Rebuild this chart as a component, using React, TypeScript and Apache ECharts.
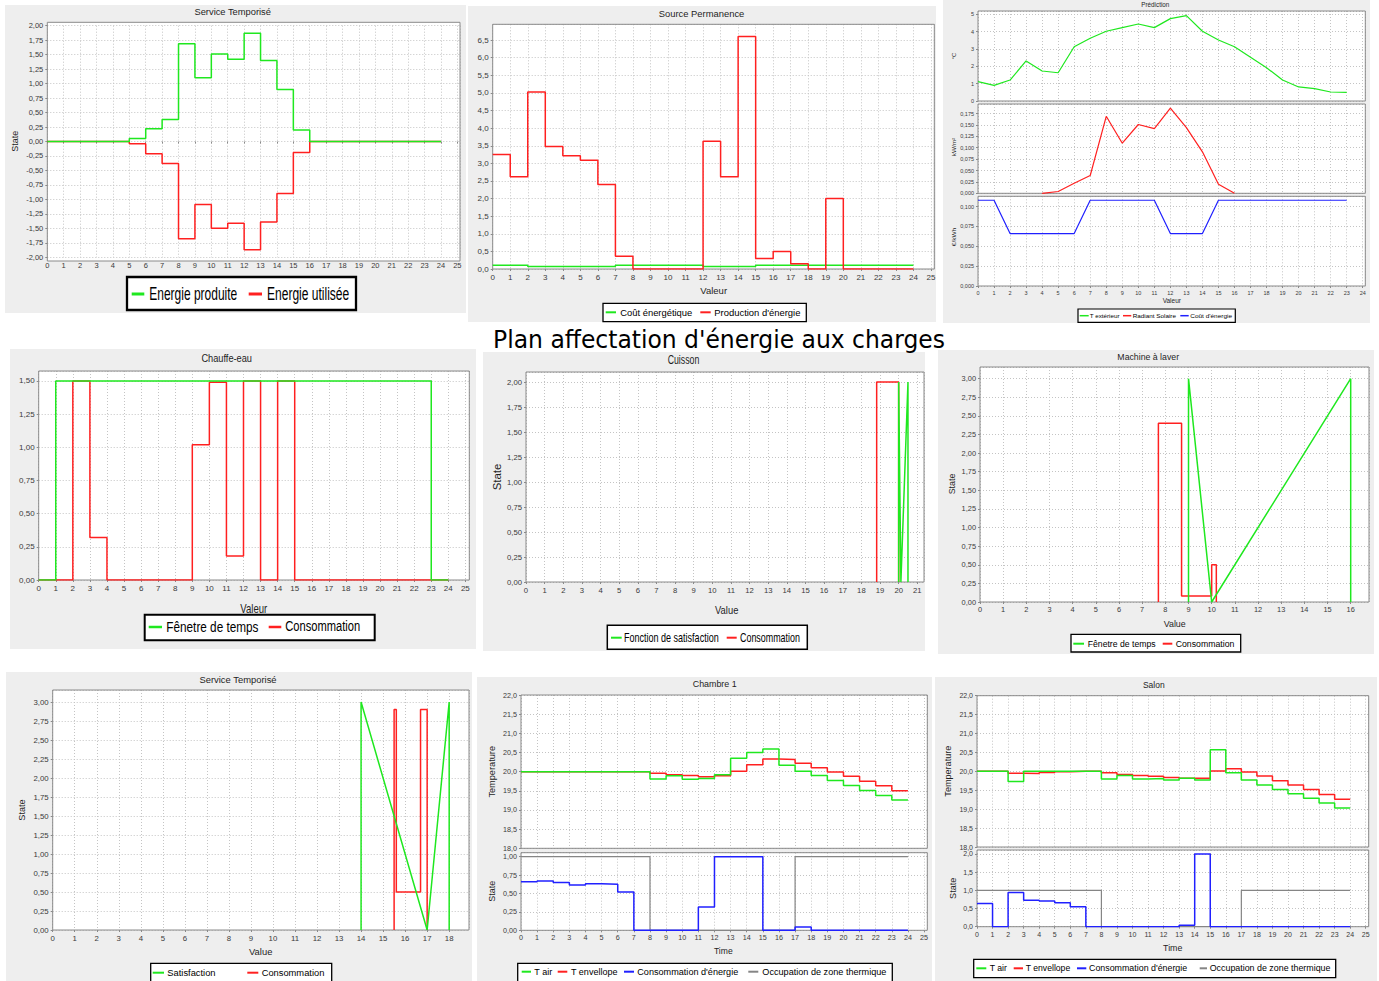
import React, { useEffect, useRef } from 'react';
import * as echarts from 'echarts';

// ---------------- data ----------------
const HOURS = [0, 1, 2, 3, 4, 5, 6, 7, 8, 9, 10, 11, 12, 13, 14, 15, 16, 17, 18, 19, 20, 21, 22, 23, 24];

// Service Temporisé (haut)
const SVC_PRODUITE = [0, 0, 0, 0, 0, 0.05, 0.22, 0.38, 1.69, 1.1, 1.51, 1.42, 1.87, 1.4, 0.9, 0.2, 0, 0, 0, 0, 0, 0, 0, 0];
const SVC_UTILISEE = [0, 0, 0, 0, 0, -0.04, -0.21, -0.38, -1.68, -1.09, -1.5, -1.41, -1.87, -1.39, -0.9, -0.19, 0, 0, 0, 0, 0, 0, 0, 0];

// Source Permanence
const SRC_COUT = [0.11, 0.11, 0.07, 0.07, 0.07, 0.07, 0.07, 0.11, 0.11, 0.11, 0.11, 0.11, 0.07, 0.07, 0.07, 0.11, 0.11, 0.11, 0.11, 0.11, 0.11, 0.11, 0.11, 0.11];
const SRC_PROD = [3.25, 2.62, 5.03, 3.48, 3.22, 3.09, 2.4, 0.36, 0, 0, 0, 0, 3.63, 2.62, 6.6, 0.3, 0.5, 0.15, 0, 2.0, 0, 0, 0, 0];

// Prédiction
const PRED_TEMP = [1.12, 0.9, 1.21, 2.31, 1.73, 1.63, 3.13, 3.62, 4.02, 4.23, 4.44, 4.23, 4.75, 4.92, 4.02, 3.52, 3.13, 2.52, 1.92, 1.21, 0.81, 0.71, 0.52, 0.5];
const PRED_SOLAR: (number | null)[] = [null, null, null, null, 0, 0.004, 0.022, 0.039, 0.169, 0.11, 0.151, 0.142, 0.187, 0.144, 0.091, 0.02, 0, null, null, null, null, null, null, null];
const PRED_COST = [0.108, 0.108, 0.066, 0.066, 0.066, 0.066, 0.066, 0.108, 0.108, 0.108, 0.108, 0.108, 0.066, 0.066, 0.066, 0.108, 0.108, 0.108, 0.108, 0.108, 0.108, 0.108, 0.108, 0.108];

// Chauffe-eau
const CE_FENETRE = [0, 1.5, 1.5, 1.5, 1.5, 1.5, 1.5, 1.5, 1.5, 1.5, 1.5, 1.5, 1.5, 1.5, 1.5, 1.5, 1.5, 1.5, 1.5, 1.5, 1.5, 1.5, 1.5, 0];
const CE_CONSO = [0, 0, 1.5, 0.32, 0, 0, 0, 0, 0, 1.02, 1.49, 0.18, 1.5, 0, 1.5, 0, 0, 0, 0, 0, 0, 0, 0, 0];

// Cuisson
const CUI_CONSO_X = [18.82, 18.82, 20.0, 20.0];
const CUI_CONSO_Y = [0, 2, 2, 0];
const CUI_SAT_X = [20.0, 20.0, 20.12, 20.5, 20.5];
const CUI_SAT_Y = [0, 2, 0, 2, 0];

// Machine à laver
const ML_FEN_X = [9, 9, 10, 16, 16];
const ML_FEN_Y = [0, 3, 0, 3, 0];
const ML_CONSO_X = [7.7, 7.7, 8.7, 8.7, 10, 10, 10.2, 10.2];
const ML_CONSO_Y = [0, 2.4, 2.4, 0.08, 0.08, 0.5, 0.5, 0];

// Service Temporisé (bas)
const ST_SAT_X = [14, 14, 17, 18, 18];
const ST_SAT_Y = [0, 3, 0, 3, 0];
const ST_CONSO_X = [15.5, 15.5, 15.6, 15.6, 16.7, 16.7, 17, 17];
const ST_CONSO_Y = [0, 2.9, 2.9, 0.5, 0.5, 2.9, 2.9, 0];

// Chambre 1
const CH_TAIR = [20, 20, 20, 20, 20, 20, 20, 20, 19.81, 19.89, 19.8, 19.82, 19.92, 20.35, 20.5, 20.59, 20.17, 20.01, 19.9, 19.77, 19.64, 19.51, 19.38, 19.26];
const CH_TENV = [20, 20, 20, 20, 20, 20, 20, 20, 19.96, 19.92, 19.9, 19.87, 19.89, 20.01, 20.18, 20.33, 20.32, 20.22, 20.1, 19.99, 19.88, 19.75, 19.63, 19.5];
const CH_CONSO = [0.66, 0.67, 0.65, 0.615, 0.633, 0.624, 0.52, 0, 0, 0, 0, 0.317, 1, 1, 1, 0, 0, 0.045, 0, 0, 0, 0, 0, 0];
const CH_OCCUP = [1, 1, 1, 1, 1, 1, 1, 1, 0, 0, 0, 0, 0, 0, 0, 0, 0, 1, 1, 1, 1, 1, 1, 1];

// Salon
const SA_TAIR = [20, 20, 19.73, 20, 20, 20, 20, 20, 19.8, 19.89, 19.8, 19.81, 19.77, 19.82, 19.77, 20.57, 19.96, 19.77, 19.64, 19.52, 19.41, 19.29, 19.16, 19.03];
const SA_TENV = [20, 20, 19.95, 19.94, 19.97, 19.99, 20, 20, 19.96, 19.92, 19.89, 19.87, 19.84, 19.82, 19.82, 20.01, 20.07, 19.98, 19.88, 19.75, 19.64, 19.52, 19.39, 19.26];
const SA_CONSO = [0.64, 0, 0.94, 0.73, 0.71, 0.66, 0.55, 0, 0, 0, 0, 0, 0, 0.04, 2.0, 0, 0, 0, 0, 0, 0, 0, 0, 0];
const SA_OCCUP = [1, 1, 1, 1, 1, 1, 1, 1, 0, 0, 0, 0, 0, 0, 0, 0, 0, 1, 1, 1, 1, 1, 1, 1];

// names
const MAIN_TITLE = "Plan affectation d'énergie aux charges";
const N_PROD = 'Energie produite';
const N_UTIL = 'Energie utilisée';
const N_COUT = 'Coût énergétique';
const N_PRODE = "Production d'énergie";
const N_TEXT = 'T extérieur';
const N_SOLAR = 'Radiant Solaire';
const N_COST = "Coût d'énergie";
const N_FEN = 'Fênetre de temps';
const N_CONSO = 'Consommation';
const N_FSAT = 'Fonction de satisfaction';
const N_SAT = 'Satisfaction';
const N_TAIR = 'T air';
const N_TENV = 'T envellope';
const N_CONSE = "Consommation d'énergie";
const N_OCC = 'Occupation de zone thermique';

// ---------------- styles ----------------
const SANS = '"Liberation Sans", Arial, Helvetica, sans-serif';
const NARROW = '"Liberation Sans Narrow", "Liberation Sans", Arial, sans-serif';
const DEJAVU = '"DejaVu Sans", sans-serif';
const GREEN = '#1fe81f';
const RED = '#ff2020';
const BLUE = '#2020ff';
const GREY = '#858585';
const FRAME = '#8a8a8a';
const GRIDC = '#c4c4c4';
const PANEL = '#eeeeee';

let measureCtx: CanvasRenderingContext2D | null = null;
function textWidth(text: string, font: string): number {
  if (!measureCtx) measureCtx = document.createElement('canvas').getContext('2d');
  if (!measureCtx) return text.length * 5;
  measureCtx.font = font;
  return measureCtx.measureText(text).width;
}

function label(text: string, x: number, y: number, size: number, width: number | null, opts: any = {}) {
  const family = opts.family || SANS;
  const font = `normal ${size}px ${family}`;
  const scale = width ? width / textWidth(text, font) : 1;
  const align = opts.align || 'center';
  return {
    type: 'text', x, y, rotation: opts.rotate ? Math.PI / 2 : 0, scaleX: scale, z: 6, silent: true,
    style: { text, font, fill: opts.color || '#1e1e1e', align, textAlign: align, verticalAlign: 'middle', textVerticalAlign: 'middle' },
  };
}

function rect(x: number, y: number, w: number, h: number, fill: string, stroke: string | null, lw: number, z: number) {
  return { type: 'rect', silent: true, z, shape: { x, y, width: w, height: h }, style: { fill, stroke: stroke || 'none', lineWidth: lw } };
}

const stepPairs = (vals: number[]) => vals.map((v, i) => [HOURS[i], v]).concat([[HOURS[vals.length], vals[vals.length - 1]]]);
const linePairs = (vals: (number | null)[]) => vals.map((v, i) => [HOURS[i], v]).filter((p) => p[1] !== null);
const zip = (xs: number[], ys: number[]) => xs.map((x, i) => [x, ys[i]]);

function buildOption() {
  const grid: any[] = [];
  const xAxis: any[] = [];
  const yAxis: any[] = [];
  const series: any[] = [];
  const g: any[] = [];
  const near = (v: number, s: number) => Math.abs(v / s - Math.round(v / s)) < 1e-6;

  const addGrid = (p: any) => {
    const i = grid.length;
    grid.push({ left: p.left, top: p.top, width: p.width, height: p.height, show: false, containLabel: false });
    const box = p.box || [p.left, p.top, p.width, p.height];
    g.push(rect(box[0], box[1], box[2], box[3], '#ffffff', null, 0, -1));
    g.push(rect(box[0], box[1], box[2], box[3], 'none', FRAME, 1, 1));
    const showX = p.showX !== false;
    const lbl = { color: '#3a3a3a', fontSize: p.fs, fontFamily: SANS };
    const split = { show: true, lineStyle: { color: GRIDC, width: 1, type: [1, 2] } };
    xAxis.push({
      type: 'value', gridIndex: i, min: 0, max: p.xMax, interval: 1,
      axisLine: { show: false },
      axisTick: { show: showX, length: 2, lineStyle: { color: FRAME } },
      axisLabel: { show: showX, ...lbl, margin: 4, showMinLabel: true, showMaxLabel: near(p.xMax, 1), formatter: (v: number) => String(Math.round(v)) },
      splitLine: split,
    });
    yAxis.push({
      type: 'value', gridIndex: i, min: p.yMin, max: p.yMax, interval: p.yStep,
      axisLine: { show: false },
      axisTick: { show: true, length: 2, lineStyle: { color: FRAME } },
      axisLabel: { ...lbl, margin: 4, showMinLabel: near(p.yMin, p.yStep), showMaxLabel: near(p.yMax, p.yStep), formatter: (v: number) => v.toFixed(p.dec).replace('.', ',') },
      splitLine: split,
    });
    return i;
  };

  const addLine = (name: string, gi: number, data: any[], color: string, step: boolean, width = 1.5) => {
    series.push({
      type: 'line', name, xAxisIndex: gi, yAxisIndex: gi, data, step: step ? 'end' : false,
      symbol: 'none', showSymbol: false, lineStyle: { color, width }, itemStyle: { color }, silent: true, z: 2,
    });
  };

  const addLegend = (box: number[], bw: number, cy: number, size: number, family: string, thick: number, items: any[]) => {
    g.push(rect(box[0], box[1], box[2], box[3], '#ffffff', '#000000', bw, 7));
    items.forEach((it) => {
      g.push({ type: 'line', silent: true, z: 8, shape: { x1: it[0], y1: cy, x2: it[1], y2: cy }, style: { stroke: it[4], lineWidth: thick } });
      g.push({ ...label(it[5], it[2], cy, size, it[3], { family, align: 'left', color: '#000' }), z: 8 });
    });
  };

  // panel backgrounds
  const panels = [
    [5, 5, 461, 308], [468, 6, 468, 316], [943, 0, 427, 323],
    [10, 349, 466, 300], [483, 352, 442, 299], [938, 350, 436, 304],
    [6, 672, 466, 309], [477, 677, 455, 304], [935, 677, 442, 304],
  ];
  panels.forEach((p) => g.push(rect(p[0], p[1], p[2], p[3], PANEL, null, 0, -2)));

  // ---- P1 Service Temporisé
  const g1 = addGrid({ left: 47.3, top: 25.7, width: 412.7, height: 231.6, box: [47.3, 22.3, 412.7, 238.7], xMax: 25.16, yMin: -2, yMax: 2, yStep: 0.25, dec: 2, fs: 7.5 });
  addLine(N_UTIL, g1, stepPairs(SVC_UTILISEE), RED, true);
  addLine(N_PROD, g1, stepPairs(SVC_PRODUITE), GREEN, true);
  g.push(label('Service Temporisé', 232.7, 11.7, 9.2, 76.7));
  g.push(label('State', 15, 141.2, 9, 21, { rotate: true }));
  addLegend([127, 277, 229, 33], 2.3, 294, 18, NARROW, 3, [
    [131.7, 144.3, 149.3, 88, GREEN, N_PROD], [248.7, 262, 267, 82.3, RED, N_UTIL]]);

  // ---- P2 Source Permanence
  const g2 = addGrid({ left: 492.7, top: 24.3, width: 441.6, height: 244.7, xMax: 25.19, yMin: 0, yMax: 6.95, yStep: 0.5, dec: 1, fs: 8 });
  addLine(N_COUT, g2, stepPairs(SRC_COUT), GREEN, true);
  addLine(N_PRODE, g2, stepPairs(SRC_PROD), RED, true);
  g.push(label('Source Permanence', 701.5, 14.3, 9.3, 85.7));
  g.push(label('Valeur', 713.7, 291, 9.2, 26.7));
  addLegend([603, 303.3, 203.3, 18.4], 1.3, 312.3, 9.4, SANS, 2, [
    [605.7, 616, 620.3, 72, GREEN, N_COUT], [700.3, 710.7, 714.3, 86, RED, N_PRODE]]);

  // ---- P3 Prédiction
  const g3a = addGrid({ left: 978, top: 11, width: 387.3, height: 90, xMax: 24.16, yMin: 0, yMax: 5.19, yStep: 1, dec: 0, fs: 5.5, showX: false });
  const g3b = addGrid({ left: 978, top: 104, width: 387.3, height: 89.3, xMax: 24.16, yMin: 0, yMax: 0.196, yStep: 0.025, dec: 3, fs: 5.5, showX: false });
  const g3c = addGrid({ left: 978, top: 196.3, width: 387.3, height: 89.7, xMax: 24.16, yMin: 0, yMax: 0.113, yStep: 0.025, dec: 3, fs: 5.5 });
  addLine(N_TEXT, g3a, linePairs(PRED_TEMP), GREEN, false, 1.2);
  addLine(N_SOLAR, g3b, linePairs(PRED_SOLAR), RED, false, 1.2);
  addLine(N_COST, g3c, linePairs(PRED_COST), BLUE, false, 1.2);
  g.push(label('Prédiction', 1155.3, 4.3, 6.3, 28));
  g.push(label('°C', 954, 56, 6, null, { rotate: true }));
  g.push(label('kW/m²', 954, 147, 6, 18.3, { rotate: true }));
  g.push(label('€/kWh', 954, 237, 6, 18.3, { rotate: true }));
  g.push(label('Valeur', 1171.8, 301, 6.3, 18.3));
  addLegend([1078, 309, 157.3, 13.3], 1.2, 315.7, 5.8, SANS, 1.5, [
    [1079.7, 1088.7, 1089.7, 30, GREEN, N_TEXT], [1123, 1131.3, 1132.7, 43.3, RED, N_SOLAR], [1180.3, 1188.7, 1190.3, 41.7, BLUE, N_COST]]);

  // ---- P4 Chauffe-eau
  const g4 = addGrid({ left: 38.7, top: 371, width: 430.6, height: 209, xMax: 25.23, yMin: 0, yMax: 1.575, yStep: 0.25, dec: 2, fs: 8 });
  addLine(N_CONSO, g4, stepPairs(CE_CONSO), RED, true);
  addLine(N_FEN, g4, stepPairs(CE_FENETRE), GREEN, true);
  g.push(label('Chauffe-eau', 226.7, 358, 11.6, 50.7, { family: NARROW }));
  g.push(label('Valeur', 253.8, 608.7, 12, 27, { family: NARROW }));
  addLegend([144.7, 614.7, 230, 25.6], 2, 627, 14, NARROW, 2.5, [
    [148.7, 162, 166.3, 92.3, GREEN, N_FEN], [268.7, 281.3, 285.3, 75, RED, N_CONSO]]);

  // ---- P5 Cuisson
  const g5 = addGrid({ left: 526, top: 372, width: 398, height: 210, xMax: 21.36, yMin: 0, yMax: 2.1, yStep: 0.25, dec: 2, fs: 7.7 });
  addLine(N_CONSO, g5, zip(CUI_CONSO_X, CUI_CONSO_Y), RED, false);
  addLine(N_FSAT, g5, zip(CUI_SAT_X, CUI_SAT_Y), GREEN, false);
  g.push(label('Cuisson', 683.5, 359, 12, 31.7, { family: NARROW }));
  g.push(label('State', 496.7, 477, 11, 26.7, { rotate: true, family: NARROW }));
  g.push(label('Value', 726.7, 610, 11, 23.3, { family: NARROW }));
  addLegend([607.3, 625.3, 200, 24], 1.5, 637.7, 12, NARROW, 2, [
    [611, 621.7, 624, 94.7, GREEN, N_FSAT], [726.7, 736.7, 740, 60, RED, N_CONSO]]);

  // ---- P6 Machine à laver
  const g6 = addGrid({ left: 980, top: 367, width: 389, height: 235, xMax: 16.79, yMin: 0, yMax: 3.157, yStep: 0.25, dec: 2, fs: 7.4 });
  addLine(N_CONSO, g6, zip(ML_CONSO_X, ML_CONSO_Y), RED, false);
  addLine(N_FEN, g6, zip(ML_FEN_X, ML_FEN_Y), GREEN, false);
  g.push(label('Machine à laver', 1148.2, 357, 8.7, 61.7));
  g.push(label('State', 951.7, 484, 8.9, 20.7, { rotate: true }));
  g.push(label('Value', 1174.7, 623.7, 8.6, 22));
  addLegend([1071, 634.3, 169.7, 17.7], 1.3, 643.7, 9, SANS, 2, [
    [1073.3, 1084, 1087.7, 68, GREEN, N_FEN], [1162.7, 1172.3, 1175.7, 58.7, RED, N_CONSO]]);

  // ---- P7 Service Temporisé (bas)
  const g7 = addGrid({ left: 52.7, top: 690, width: 416.3, height: 240, xMax: 18.9, yMin: 0, yMax: 3.158, yStep: 0.25, dec: 2, fs: 7.8 });
  addLine(N_CONSO, g7, zip(ST_CONSO_X, ST_CONSO_Y), RED, false);
  addLine(N_SAT, g7, zip(ST_SAT_X, ST_SAT_Y), GREEN, false);
  g.push(label('Service Temporisé', 238, 680, 9.3, 77.3));
  g.push(label('State', 22.3, 810, 9, 21.3, { rotate: true }));
  g.push(label('Value', 260.7, 951.7, 9, 23.3));
  addLegend([150.7, 963.3, 181, 20], 1.3, 972.7, 9.3, SANS, 2, [
    [152.7, 164, 167.3, 48.3, GREEN, N_SAT], [247.3, 258.3, 261.7, 62.7, RED, N_CONSO]]);

  // ---- P8 Chambre 1
  const g8a = addGrid({ left: 521, top: 695, width: 406.3, height: 153.3, xMax: 25.2, yMin: 18, yMax: 22, yStep: 0.5, dec: 1, fs: 7.2, showX: false });
  const g8b = addGrid({ left: 521, top: 852.7, width: 406.3, height: 77.6, xMax: 25.2, yMin: 0, yMax: 1.054, yStep: 0.25, dec: 2, fs: 7.2 });
  addLine(N_TENV, g8a, stepPairs(CH_TENV), RED, true);
  addLine(N_TAIR, g8a, stepPairs(CH_TAIR), GREEN, true);
  addLine(N_OCC, g8b, stepPairs(CH_OCCUP), GREY, true, 1.2);
  addLine(N_CONSE, g8b, stepPairs(CH_CONSO), BLUE, true);
  g.push(label('Chambre 1', 714.7, 684, 8.9, 44));
  g.push(label('Temperature', 491.7, 771.8, 9, 51.7, { rotate: true }));
  g.push(label('State', 491.7, 891.2, 9, 21, { rotate: true }));
  g.push(label('Time', 723.3, 951, 8.5, 18.7));
  addLegend([517.7, 963.3, 374.6, 20], 1.3, 971.7, 9.1, SANS, 2, [
    [521.7, 531, 534.3, 18, GREEN, N_TAIR], [557.7, 567.3, 571, 46.7, RED, N_TENV],
    [624, 634, 637.3, 101, BLUE, N_CONSE], [748.3, 758.3, 762.3, 124.3, GREY, N_OCC]]);

  // ---- P9 Salon
  const g9a = addGrid({ left: 977, top: 695.7, width: 391.7, height: 151.3, xMax: 25.19, yMin: 18, yMax: 22, yStep: 0.5, dec: 1, fs: 7, showX: false });
  const g9b = addGrid({ left: 977, top: 850, width: 391.7, height: 76.7, xMax: 25.19, yMin: 0, yMax: 2.11, yStep: 0.5, dec: 1, fs: 7 });
  addLine(N_TENV, g9a, stepPairs(SA_TENV), RED, true);
  addLine(N_TAIR, g9a, stepPairs(SA_TAIR), GREEN, true);
  addLine(N_OCC, g9b, stepPairs(SA_OCCUP), GREY, true, 1.2);
  addLine(N_CONSE, g9b, stepPairs(SA_CONSO), BLUE, true);
  g.push(label('Salon', 1153.8, 685, 8.5, 21.7));
  g.push(label('Temperature', 948, 771.2, 9, 51, { rotate: true }));
  g.push(label('State', 953, 888.3, 9, 21.3, { rotate: true }));
  g.push(label('Time', 1172.7, 947.7, 8.5, 19.3));
  addLegend([973.7, 959.3, 362, 18.4], 1.3, 968.3, 8.9, SANS, 2, [
    [976.3, 986.3, 989.7, 17.3, GREEN, N_TAIR], [1013.7, 1023, 1025.7, 44.6, RED, N_TENV],
    [1077, 1086.3, 1089, 98, BLUE, N_CONSE], [1199.7, 1207, 1209.7, 120.6, GREY, N_OCC]]);

  // main title
  g.push(label(MAIN_TITLE, 719, 339.5, 25, 452, { family: DEJAVU, color: '#000' }));

  return {
    animation: false,
    backgroundColor: '#ffffff',
    grid, xAxis, yAxis, series,
    graphic: { elements: g },
  };
}

export default function App() {
  const ref = useRef<HTMLDivElement>(null);
  useEffect(() => {
    if (!ref.current) return;
    const chart = echarts.init(ref.current, null, { renderer: 'svg' });
    chart.setOption(buildOption() as any);
    return () => chart.dispose();
  }, []);
  return <div ref={ref} style={{ position: 'absolute', left: 0, top: 0, width: 1379, height: 981, background: '#fff' }} />;
}
